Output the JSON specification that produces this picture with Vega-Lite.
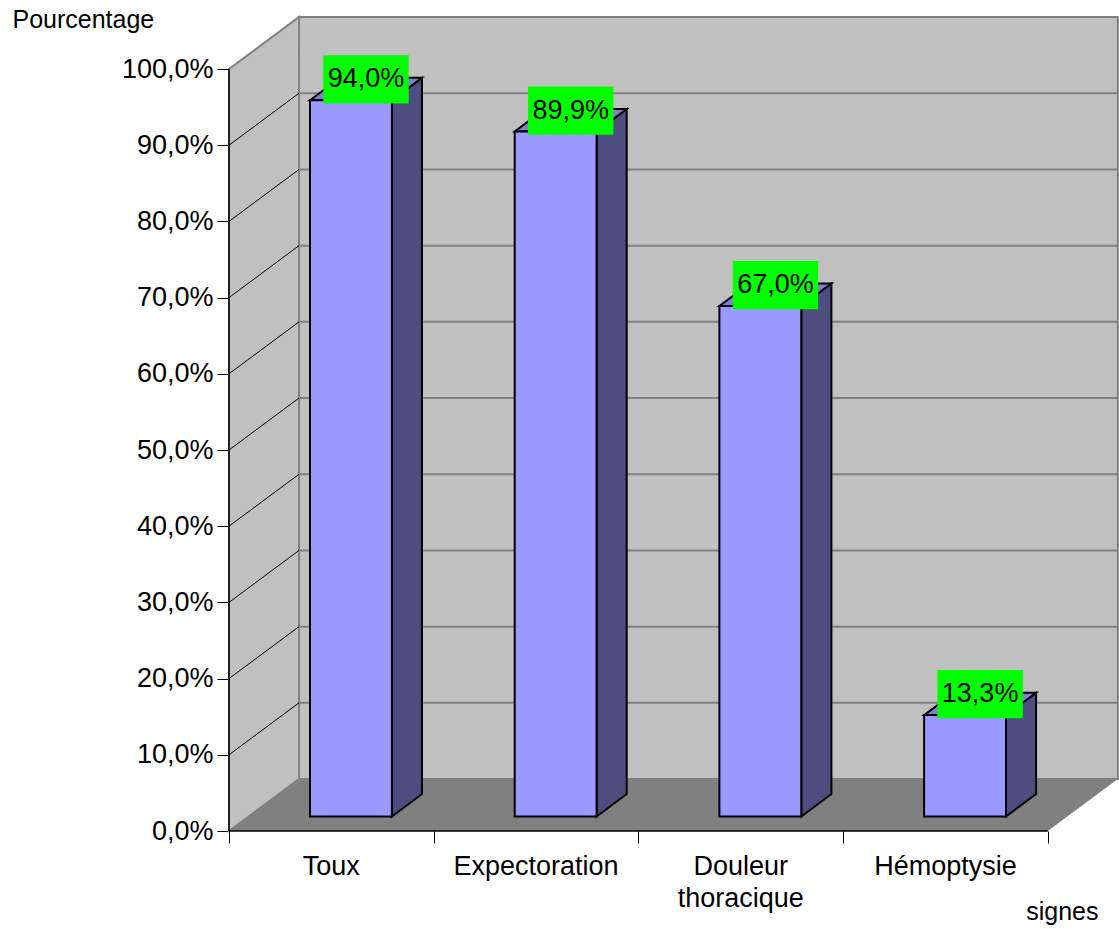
{
  "$schema": "https://vega.github.io/schema/vega-lite/v6.json",
  "width": 890,
  "height": 816,
  "autosize": {"type": "none"},
  "padding": {"left": 229, "top": 15, "right": 0, "bottom": 98},
  "background": "white",
  "config": {
    "view": {"stroke": null},
    "font": "Liberation Sans"
  },
  "datasets": {
    "signes": [
      {"signe": "Toux", "pct": 94.0},
      {"signe": "Expectoration", "pct": 89.9},
      {"signe": "Douleur thoracique", "pct": 67.0},
      {"signe": "Hémoptysie", "pct": 13.3}
    ],
    "graduations": [
      {"v": 10}, {"v": 20}, {"v": 30}, {"v": 40}, {"v": 50},
      {"v": 60}, {"v": 70}, {"v": 80}, {"v": 90}
    ],
    "profondeur": [{"p": 0}, {"p": 1}]
  },
  "layer": [
    {
      "data": {"values": [{}]},
      "mark": {"type": "rect", "fill": "#C0C0C0", "stroke": "#808080", "strokeWidth": 2},
      "encoding": {
        "x": {
          "datum": 0.342, "type": "quantitative",
          "scale": {"domain": [0, 4.3478], "nice": false, "zero": false},
          "axis": {
            "values": [0, 1, 2, 3, 4], "labels": false, "domain": false, "grid": false,
            "tickSize": 12, "tickColor": "#000000", "tickWidth": 1,
            "title": "signes", "titleFontSize": 25, "titleFontWeight": "normal", "titleColor": "#000000",
            "titleX": 869, "titleY": 88, "titleAlign": "right", "titleBaseline": "alphabetic"
          }
        },
        "x2": {"datum": 4.342},
        "y": {
          "datum": 6.82, "type": "quantitative",
          "scale": {"domain": [0, 107.087], "nice": false, "zero": false},
          "axis": {
            "values": [0, 10, 20, 30, 40, 50, 60, 70, 80, 90, 100],
            "labelExpr": "replace(format(datum.value / 100, '.1%'), '.', ',')",
            "labelFontSize": 27, "labelColor": "#000000", "labelPadding": 4,
            "tickSize": 12, "tickColor": "#000000", "tickWidth": 1,
            "domain": false, "grid": false,
            "title": "Pourcentage", "titleAngle": 0, "titleAlign": "left", "titleBaseline": "alphabetic",
            "titleX": -217, "titleY": 12, "titleFontSize": 25, "titleFontWeight": "normal", "titleColor": "#000000"
          }
        },
        "y2": {"datum": 106.82}
      }
    },
    {
      "data": {"name": "profondeur"},
      "transform": [
        {"calculate": "datum.p * 0.342", "as": "gx"},
        {"calculate": "datum.p * 6.82", "as": "gy"},
        {"calculate": "100 + datum.p * 6.82", "as": "gy2"}
      ],
      "mark": {"type": "area", "orient": "vertical", "fill": "#C0C0C0", "stroke": "#808080", "strokeWidth": 2},
      "encoding": {
        "x": {"field": "gx", "type": "quantitative"},
        "y": {"field": "gy", "type": "quantitative"},
        "y2": {"field": "gy2"}
      }
    },
    {
      "data": {"name": "profondeur"},
      "transform": [
        {"calculate": "datum.p * 6.82", "as": "gy"},
        {"calculate": "datum.p * 0.342", "as": "gx"},
        {"calculate": "4 + datum.p * 0.342", "as": "gx2"}
      ],
      "mark": {"type": "area", "orient": "horizontal", "fill": "#808080"},
      "encoding": {
        "y": {"field": "gy", "type": "quantitative"},
        "x": {"field": "gx", "type": "quantitative"},
        "x2": {"field": "gx2"}
      }
    },
    {
      "data": {"name": "graduations"},
      "transform": [{"calculate": "datum.v + 6.82", "as": "gy"}],
      "mark": {"type": "rule", "color": "#808080", "strokeWidth": 2},
      "encoding": {
        "x": {"datum": 0.342},
        "x2": {"datum": 4.342},
        "y": {"field": "gy", "type": "quantitative"}
      }
    },
    {
      "data": {"name": "graduations"},
      "transform": [{"calculate": "datum.v + 6.82", "as": "gy"}],
      "mark": {"type": "rule", "color": "#000000", "strokeWidth": 1},
      "encoding": {
        "x": {"datum": 0},
        "x2": {"datum": 0.342},
        "y": {"field": "v", "type": "quantitative"},
        "y2": {"field": "gy"}
      }
    },
    {
      "data": {"values": [{}]},
      "mark": {"type": "rule", "color": "#000000", "strokeWidth": 1.5},
      "encoding": {
        "x": {"datum": 0},
        "y": {"datum": 0},
        "y2": {"datum": 100}
      }
    },
    {
      "data": {"values": [{}]},
      "mark": {"type": "rule", "color": "#000000", "strokeWidth": 1.5},
      "encoding": {
        "x": {"datum": 0},
        "x2": {"datum": 4},
        "y": {"datum": 0}
      }
    },
    {
      "data": {"name": "signes"},
      "transform": [
        {"window": [{"op": "row_number", "as": "rang"}]},
        {"calculate": "[0.28, 0.71]", "as": "prof"},
        {"flatten": ["prof"]},
        {"calculate": "datum.rang - 0.3 + datum.prof * 0.342", "as": "gx"},
        {"calculate": "datum.pct + datum.prof * 6.82", "as": "gy"},
        {"calculate": "datum.prof * 6.82", "as": "gy2"}
      ],
      "mark": {"type": "area", "orient": "vertical", "fill": "#4D4D80", "stroke": "#000000", "strokeWidth": 2, "strokeJoin": "miter"},
      "encoding": {
        "x": {"field": "gx", "type": "quantitative"},
        "y": {"field": "gy", "type": "quantitative"},
        "y2": {"field": "gy2"},
        "detail": {"field": "signe"}
      }
    },
    {
      "data": {"name": "signes"},
      "transform": [
        {"window": [{"op": "row_number", "as": "rang"}]},
        {"calculate": "[0.28, 0.71]", "as": "prof"},
        {"flatten": ["prof"]},
        {"calculate": "datum.rang - 0.7 + datum.prof * 0.342", "as": "gx"},
        {"calculate": "datum.rang - 0.3 + datum.prof * 0.342", "as": "gx2"},
        {"calculate": "datum.pct + datum.prof * 6.82", "as": "gy"}
      ],
      "mark": {"type": "area", "orient": "horizontal", "fill": "#7F7FD6", "stroke": "#000000", "strokeWidth": 2, "strokeJoin": "miter"},
      "encoding": {
        "y": {"field": "gy", "type": "quantitative"},
        "x": {"field": "gx", "type": "quantitative"},
        "x2": {"field": "gx2"},
        "detail": {"field": "signe"}
      }
    },
    {
      "data": {"name": "signes"},
      "transform": [
        {"window": [{"op": "row_number", "as": "rang"}]},
        {"calculate": "datum.rang - 0.7 + 0.28 * 0.342", "as": "gx"},
        {"calculate": "datum.gx + 0.4", "as": "gx2"},
        {"calculate": "0.28 * 6.82", "as": "gy"},
        {"calculate": "datum.pct + 0.28 * 6.82", "as": "gy2"}
      ],
      "mark": {"type": "rect", "fill": "#9999FF", "stroke": "#000000", "strokeWidth": 2},
      "encoding": {
        "x": {"field": "gx", "type": "quantitative"},
        "x2": {"field": "gx2"},
        "y": {"field": "gy", "type": "quantitative"},
        "y2": {"field": "gy2"}
      }
    },
    {
      "data": {"name": "signes"},
      "transform": [
        {"window": [{"op": "row_number", "as": "rang"}]},
        {"calculate": "datum.rang - 0.5 + 0.495 * 0.342", "as": "gx"},
        {"calculate": "datum.pct + 4.65", "as": "gy"}
      ],
      "mark": {
        "type": "point", "shape": "M-1,-0.565L1,-0.565L1,0.565L-1,0.565Z",
        "size": 7300, "filled": true, "fill": "#00FF00", "opacity": 1, "strokeWidth": 0
      },
      "encoding": {
        "x": {"field": "gx", "type": "quantitative"},
        "y": {"field": "gy", "type": "quantitative"}
      }
    },
    {
      "data": {"name": "signes"},
      "transform": [
        {"window": [{"op": "row_number", "as": "rang"}]},
        {"calculate": "datum.rang - 0.5 + 0.495 * 0.342", "as": "gx"},
        {"calculate": "datum.pct + 4.65", "as": "gy"},
        {"calculate": "replace(format(datum.pct / 100, '.1%'), '.', ',')", "as": "etiquette"}
      ],
      "mark": {"type": "text", "font": "Liberation Sans", "fontSize": 27, "color": "#000000", "align": "center", "baseline": "middle"},
      "encoding": {
        "x": {"field": "gx", "type": "quantitative"},
        "y": {"field": "gy", "type": "quantitative"},
        "text": {"field": "etiquette"}
      }
    },
    {
      "data": {"name": "signes"},
      "transform": [
        {"window": [{"op": "row_number", "as": "rang"}]},
        {"calculate": "datum.rang - 0.5", "as": "gx"}
      ],
      "mark": {"type": "text", "font": "Liberation Sans", "fontSize": 27, "color": "#000000", "align": "center", "baseline": "top", "lineBreak": " ", "lineHeight": 32},
      "encoding": {
        "x": {"field": "gx", "type": "quantitative"},
        "y": {"datum": -3.0},
        "text": {"field": "signe"}
      }
    }
  ]
}
